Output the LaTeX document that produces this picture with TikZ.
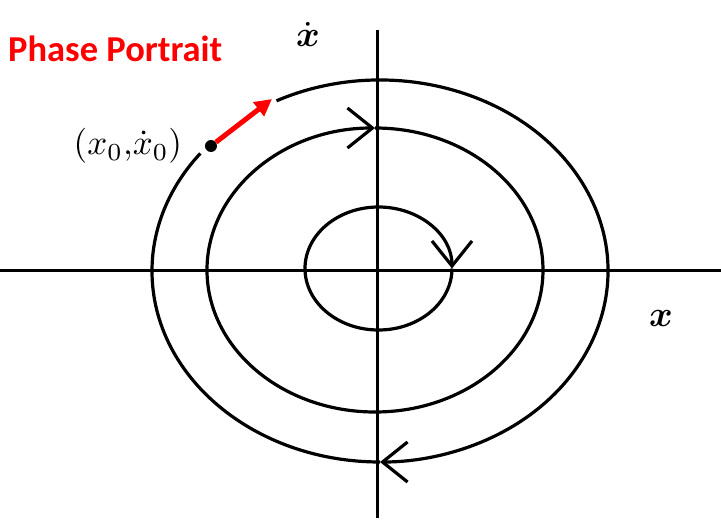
\documentclass[tikz,border=0pt]{standalone}
\usepackage{amsmath,amssymb}
\usepackage{fontspec}
\newfontfamily\titlefont{Carlito}
\usetikzlibrary{arrows.meta,positioning}

\begin{document}
\begin{tikzpicture}[x=1pt, y=1pt,
	axis/.style={line width=3pt},
	orbit/.style={line width=3.2pt},
	flow/.style={orbit, -{Straight Barb[length=25pt, width=40pt]}},
	push/.style={red, line width=5pt, -{Triangle[length=17pt, width=17pt]}}]
	\useasboundingbox (-378,-250) rectangle (343,270);
	% axes
	\coordinate (xl) at (-378,0); \coordinate (xr) at (343,0);
	\coordinate (yb) at (0,-248); \coordinate (yt) at (0,240);
	\draw[axis] (xl) -- (xr);
	\draw[axis] (yb) -- (yt);
	\node[anchor=base, inner sep=0, scale=3.6] (xlab) at (283,-56) {$\boldsymbol{x}$};
	\node[anchor=base, inner sep=0, scale=3.6] (ylab) at (-70,223) {$\dot{\boldsymbol{x}}$};
	% trajectories, clockwise
	\coordinate (Oi) at (0.5,1.5); \coordinate (Om) at (-3,0); \coordinate (Oo) at (2,-1);
	\draw[flow] (Oi) ++(0:73.5 and 61.5) arc[start angle=0, end angle=-360, x radius=73.5, y radius=61.5];
	\draw[flow] (Om) ++(90:168 and 142) arc[start angle=90, end angle=-270, x radius=168, y radius=142];
	\draw[flow] (Oo) ++(117:228 and 191) arc[start angle=117, end angle=-90, x radius=228, y radius=191];
	\draw[orbit] (Oo) ++(-90:228 and 191) arc[start angle=-90, end angle=-218, x radius=228, y radius=191];
	% initial state
	\node[circle, fill=black, inner sep=0, minimum size=12pt] (x0) at (-167,124) {};
	\coordinate (x0tip) at (-106,171);
	\draw[push] (x0) -- (x0tip);
	\node[left=22pt of x0, inner sep=0, scale=3.5] (x0lab) {$(x_0{,}\dot{x}_0)$};
	\node[anchor=base west, inner sep=0, red] (title) at (-370,208) {\titlefont\bfseries\fontsize{36.5}{40}\selectfont Phase Portrait};
\end{tikzpicture}
\end{document}
